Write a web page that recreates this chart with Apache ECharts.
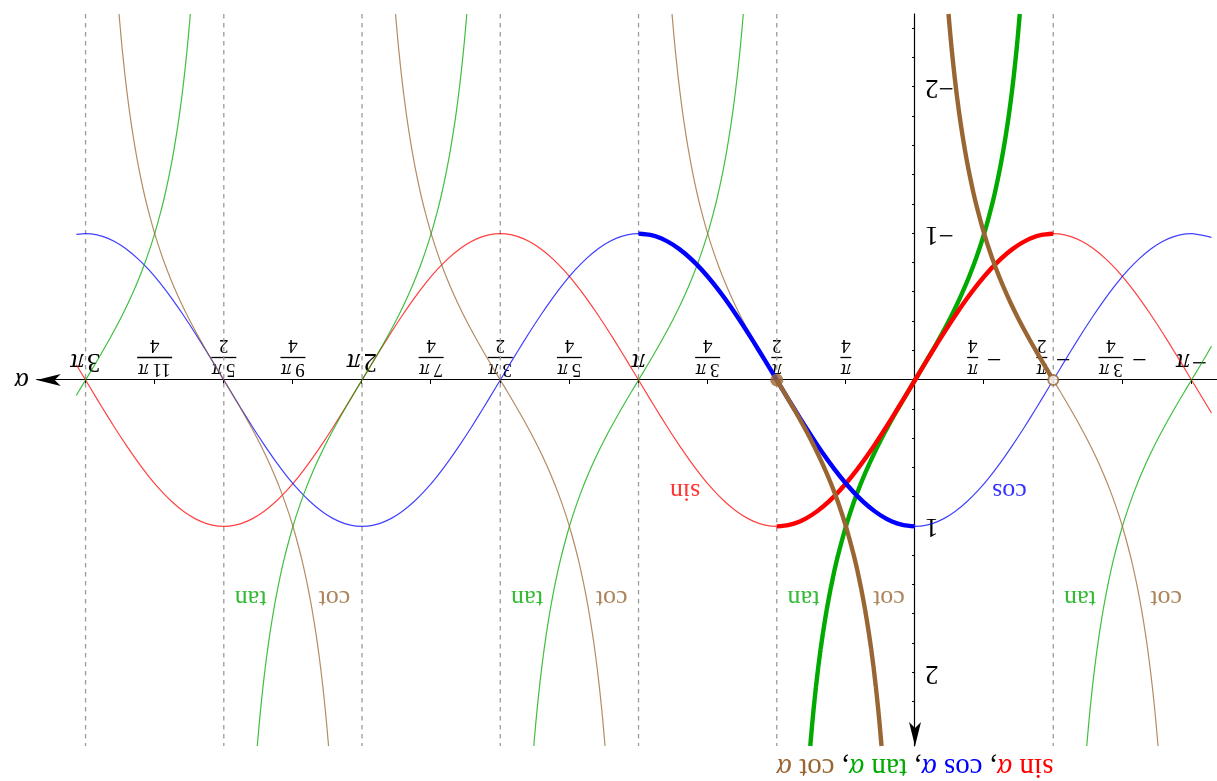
<!DOCTYPE html>
<html><head><meta charset="utf-8">
<script src="https://cdn.jsdelivr.net/npm/echarts@6/dist/echarts.min.js"></script>
<style>
html,body{margin:0;padding:0;background:#fff;overflow:hidden}
#chart{width:1217px;height:781px;transform:rotate(180deg);background:#fff}
</style></head><body><div id="chart"></div>
<script>
// ---------- data (angles in degrees) ----------
const angleDeg = [-193,
 -180,-172.5,-165,-157.5,-150,-142.5,-135,-127.5,-120,-112.5,-105,-97.5,
 -90,-82.5,-75,-67.5,-60,-52.5,-45,-37.5,-30,-22.5,-15,-7.5,
 0,7.5,15,22.5,30,37.5,45,52.5,60,67.5,75,82.5,
 90,97.5,105,112.5,120,127.5,135,142.5,150,157.5,165,172.5,
 180,187.5,195,202.5,210,217.5,225,232.5,240,247.5,255,262.5,
 270,277.5,285,292.5,300,307.5,315,322.5,330,337.5,345,352.5,
 360,367.5,375,382.5,390,397.5,405,412.5,420,427.5,435,442.5,
 450,457.5,465,472.5,480,487.5,495,502.5,510,517.5,525,532.5,
 540,546];
const sinValues = [0.2250,
 0,-0.1305,-0.2588,-0.3827,-0.5,-0.6088,-0.7071,-0.7934,-0.8660,-0.9239,-0.9659,-0.9914,
 -1,-0.9914,-0.9659,-0.9239,-0.8660,-0.7934,-0.7071,-0.6088,-0.5,-0.3827,-0.2588,-0.1305,
 0,0.1305,0.2588,0.3827,0.5,0.6088,0.7071,0.7934,0.8660,0.9239,0.9659,0.9914,
 1,0.9914,0.9659,0.9239,0.8660,0.7934,0.7071,0.6088,0.5,0.3827,0.2588,0.1305,
 0,-0.1305,-0.2588,-0.3827,-0.5,-0.6088,-0.7071,-0.7934,-0.8660,-0.9239,-0.9659,-0.9914,
 -1,-0.9914,-0.9659,-0.9239,-0.8660,-0.7934,-0.7071,-0.6088,-0.5,-0.3827,-0.2588,-0.1305,
 0,0.1305,0.2588,0.3827,0.5,0.6088,0.7071,0.7934,0.8660,0.9239,0.9659,0.9914,
 1,0.9914,0.9659,0.9239,0.8660,0.7934,0.7071,0.6088,0.5,0.3827,0.2588,0.1305,
 0,-0.1045];
const cosValues = [-0.9744,
 -1,-0.9914,-0.9659,-0.9239,-0.8660,-0.7934,-0.7071,-0.6088,-0.5,-0.3827,-0.2588,-0.1305,
 0,0.1305,0.2588,0.3827,0.5,0.6088,0.7071,0.7934,0.8660,0.9239,0.9659,0.9914,
 1,0.9914,0.9659,0.9239,0.8660,0.7934,0.7071,0.6088,0.5,0.3827,0.2588,0.1305,
 0,-0.1305,-0.2588,-0.3827,-0.5,-0.6088,-0.7071,-0.7934,-0.8660,-0.9239,-0.9659,-0.9914,
 -1,-0.9914,-0.9659,-0.9239,-0.8660,-0.7934,-0.7071,-0.6088,-0.5,-0.3827,-0.2588,-0.1305,
 0,0.1305,0.2588,0.3827,0.5,0.6088,0.7071,0.7934,0.8660,0.9239,0.9659,0.9914,
 1,0.9914,0.9659,0.9239,0.8660,0.7934,0.7071,0.6088,0.5,0.3827,0.2588,0.1305,
 0,-0.1305,-0.2588,-0.3827,-0.5,-0.6088,-0.7071,-0.7934,-0.8660,-0.9239,-0.9659,-0.9914,
 -1,-0.9945];
// one branch of tan / cot, offsets (deg) from the branch centre
const branchOffsetDeg = [-68.2,-67,-66,-64.5,-63,-61.5,-60,-57.5,-55,-52.5,-50,-45,-40,-35,-30,-25,-20,-15,-10,-5,0,5,10,15,20,25,30,35,40,45,50,52.5,55,57.5,60,61.5,63,64.5,66,67,68.2];
const tanValues = [-2.5,-2.3559,-2.2460,-2.0965,-1.9626,-1.8418,-1.7321,-1.5697,-1.4281,-1.3032,-1.1918,-1,-0.8391,-0.7002,-0.5774,-0.4663,-0.3640,-0.2679,-0.1763,-0.0875,0,0.0875,0.1763,0.2679,0.3640,0.4663,0.5774,0.7002,0.8391,1,1.1918,1.3032,1.4281,1.5697,1.7321,1.8418,1.9626,2.0965,2.2460,2.3559,2.5];
const cotValues = [2.5,2.3559,2.2460,2.0965,1.9626,1.8418,1.7321,1.5697,1.4281,1.3032,1.1918,1,0.8391,0.7002,0.5774,0.4663,0.3640,0.2679,0.1763,0.0875,0,-0.0875,-0.1763,-0.2679,-0.3640,-0.4663,-0.5774,-0.7002,-0.8391,-1,-1.1918,-1.3032,-1.4281,-1.5697,-1.7321,-1.8418,-1.9626,-2.0965,-2.2460,-2.3559,-2.5];
const tanBranchCenters = [-180,0,180,360,540];
const cotBranchCenters = [-90,90,270,450];
const domainEnds = [-193,546];
const tanAtDomainEnds = [-0.2309,0.1051];
const asymptoteDeg = [-90,90,180,270,360,450,540];
const xTickDeg = [-180,-135,-90,-45,45,90,135,180,225,270,315,360,405,450,495,540];
const xTickLabels = ['−π','−3π/4','−π/2','−π/4','π/4','π/2','3π/4','π','5π/4','3π/2','7π/4','2π','9π/4','5π/2','11π/4','3π'];
const yTickValues = [-2.4,-2.2,-2,-1.8,-1.6,-1.4,-1.2,-1,-0.8,-0.6,-0.4,-0.2,0.2,0.4,0.6,0.8,1,1.2,1.4,1.6,1.8,2,2.2,2.4];
const yLabelValues = [-2,-1,1,2];
const curveLabelText = ['sin','cos','tan','tan','tan','tan','cot','cot','cot','cot'];
const curveLabelX = [149.7,-61.5,-107.4,72.6,252.6,432.6,-163.5,17,197.5,378];
const curveLabelY = [0.76,0.76,1.49,1.49,1.49,1.49,1.49,1.49,1.49,1.49];

// ---------- styles ----------
const SERIF = 'Liberation Serif';
const COL = {sin:'#ff0000', cos:'#0000ff', tan:'#00aa00', cot:'#996633'};
const X_MIN = -196.6, X_MAX = 571.8, Y_MIN = -2.5, Y_MAX = 2.5;
const GRID = {left:0, right:36.7, top:35, bottom:14};
const W = 1217, H = 781;
// offsets that put both axes through the origin
const plotW = W - GRID.left - GRID.right, plotH = H - GRID.top - GRID.bottom;
const xAxisOffset = -plotH * (0 - Y_MIN) / (Y_MAX - Y_MIN);
const yAxisOffset = -plotW * (0 - X_MIN) / (X_MAX - X_MIN);

function pairs(xs, ys){ return xs.map((x,i)=>[x, ys[i]]); }
function branch(center, vals){
  const pts = [];
  branchOffsetDeg.forEach((o,i)=>{ const x = center+o; if (x>=domainEnds[0] && x<=domainEnds[1]) pts.push([x, vals[i]]); });
  return pts;
}
const sinData = pairs(angleDeg, sinValues);
const cosData = pairs(angleDeg, cosValues);
const tanBranches = tanBranchCenters.map(c=>branch(c, tanValues));
tanBranches[0].unshift([domainEnds[0], tanAtDomainEnds[0]]);
tanBranches[tanBranches.length-1].push([domainEnds[1], tanAtDomainEnds[1]]);
const cotBranches = cotBranchCenters.map(c=>branch(c, cotValues));

const series = [];
asymptoteDeg.forEach(x=>series.push({type:'line', data:[[x,Y_MIN],[x,Y_MAX]], showSymbol:false, silent:true, z:1,
  lineStyle:{color:'#9a9a9a', width:1.3, type:[4.5,4.5]}}));
function thin(data, col){ series.push({type:'line', data, smooth:0.2, showSymbol:false, silent:true, z:2, lineStyle:{color:col, width:1.2, opacity:0.75}}); }
function thick(data, col){ series.push({type:'line', data, smooth:0.2, showSymbol:false, silent:true, z:3, lineStyle:{color:col, width:4.4}}); }
thin(sinData, COL.sin); thin(cosData, COL.cos);
tanBranches.forEach(b=>thin(b, COL.tan));
cotBranches.forEach(b=>thin(b, COL.cot));
thick(tanBranches[1], COL.tan);
thick(sinData.filter(p=>p[0]>=-90 && p[0]<=90), COL.sin);
thick(cosData.filter(p=>p[0]>=0 && p[0]<=180), COL.cos);
thick(cotBranches[0].filter(p=>p[0]>=-90), COL.cot);
thick(cotBranches[1].filter(p=>p[0]<=90), COL.cot);
series.push({type:'scatter', z:5, silent:true, symbol:'circle', symbolSize:13, itemStyle:{color:COL.cot}, data:[[90,0]]});
series.push({type:'scatter', z:5, silent:true, symbol:'circle', symbolSize:10, itemStyle:{color:'#fff', borderColor:COL.cot, borderWidth:2}, data:[[-90,0]]});
series.push({type:'scatter', z:6, silent:true, symbol:'circle', symbolSize:0.1, itemStyle:{color:'transparent'},
  data: curveLabelText.map((t,i)=>({value:[curveLabelX[i], curveLabelY[i]], name:t,
     label:{show:true, position:'inside', formatter:t, color:COL[t], fontFamily:SERIF, fontSize:26}}))});

// x tick label rich text
function xLabel(value){
  const i = xTickDeg.indexOf(Math.round(value));
  if (i < 0) return '';
  let s = xTickLabels[i];
  const neg = s.startsWith('−'); if (neg) s = s.slice(1);
  if (s.indexOf('/') < 0){
    const coef = s.replace('π','');
    return (neg?'{wm|−}':'') + (coef?'{wd|'+coef+'}{wg| }':'') + '{wp|π}';
  }
  const [num, den] = s.split('/');
  const coef = num.replace('π','');
  const bar = coef.length===0 ? 'bar1' : (coef.length===1 ? 'bar2' : 'bar3');
  const top = (coef ? '{nd|'+coef+'}{gap| }' : '') + '{np|π}';
  if (neg) return '{sp| }'+top+'\n{mn|−}{'+bar+'| }\n{sp| }{dd|'+den+'}';
  return top+'\n{'+bar+'| }\n{dd|'+den+'}';
}
const barStyle = w => ({width:w, height:1.3, lineHeight:7, backgroundColor:'#000', fontSize:6});
const xRich = {
  wd:{fontFamily:SERIF, fontSize:27, lineHeight:31, color:'#000'},
  wg:{width:3, fontSize:6, lineHeight:1},
  wp:{fontFamily:SERIF, fontSize:27, lineHeight:31, fontStyle:'italic', color:'#000'},
  wm:{fontFamily:SERIF, fontSize:27, lineHeight:31, color:'#000', padding:[0,2,0,0]},
  nd:{fontFamily:SERIF, fontSize:19, lineHeight:16, color:'#000'},
  np:{fontFamily:SERIF, fontSize:20, lineHeight:16, fontStyle:'italic', color:'#000'},
  gap:{width:4, fontSize:6, lineHeight:1},
  dd:{fontFamily:SERIF, fontSize:19, lineHeight:18, color:'#000'},
  mn:{fontFamily:SERIF, fontSize:26, lineHeight:7, width:23, align:'left', color:'#000'},
  sp:{width:23, fontSize:6, lineHeight:1},
  bar1:barStyle(11), bar2:barStyle(25), bar3:barStyle(35)
};
const tRich = {};
[['r',COL.sin],['b',COL.cos],['g',COL.tan],['o',COL.cot],['k','#000']].forEach(([k,c])=>{
  tRich[k] = {fontFamily:SERIF, fontSize:29, color:c};
  tRich[k+'i'] = {fontFamily:SERIF, fontSize:29, color:c, fontStyle:'italic'};
});

const chart = echarts.init(document.getElementById('chart'), null, {renderer:'canvas'});
chart.setOption({
  animation:false,
  backgroundColor:'#fff',
  grid:{left:GRID.left, right:GRID.right, top:GRID.top, bottom:GRID.bottom, containLabel:false, outerBoundsMode:'none'},
  xAxis:{type:'value', min:X_MIN, max:X_MAX, position:'bottom', offset:xAxisOffset,
    name:'α', nameLocation:'end', nameGap:8, nameMoveOverlap:false,
    nameTextStyle:{fontFamily:SERIF, fontSize:27, fontStyle:'italic', color:'#000'},
    axisLine:{onZero:false, lineStyle:{color:'#000', width:1.2}, symbol:['none','arrow'], symbolSize:[9,24]},
    axisTick:{show:true, inside:true, length:4, customValues:xTickDeg, lineStyle:{color:'#000', width:1}},
    axisLabel:{show:true, customValues:xTickDeg, margin:3, formatter:xLabel, rich:xRich, hideOverlap:false, color:'#000'},
    splitLine:{show:false}},
  yAxis:{type:'value', min:Y_MIN, max:Y_MAX, position:'left', offset:yAxisOffset,
    name:'{r|sin }{ri|α}{k|, }{b|cos }{bi|α}{k|, }{g|tan }{gi|α}{k|, }{o|cot }{oi|α}',
    nameLocation:'end', nameGap:6, nameMoveOverlap:false,
    nameTextStyle:{fontFamily:SERIF, fontSize:29, color:'#000', rich:tRich},
    axisLine:{onZero:false, lineStyle:{color:'#000', width:1.2}, symbol:['none','arrow'], symbolSize:[9,24]},
    axisTick:{show:true, inside:true, length:3, customValues:yTickValues, lineStyle:{color:'#000', width:1}},
    axisLabel:{show:true, customValues:yLabelValues, margin:10, fontFamily:SERIF, fontSize:27, color:'#000',
      formatter:v=> v<0 ? '−'+(-v) : String(v)},
    splitLine:{show:false}},
  series
});
</script></body></html>
